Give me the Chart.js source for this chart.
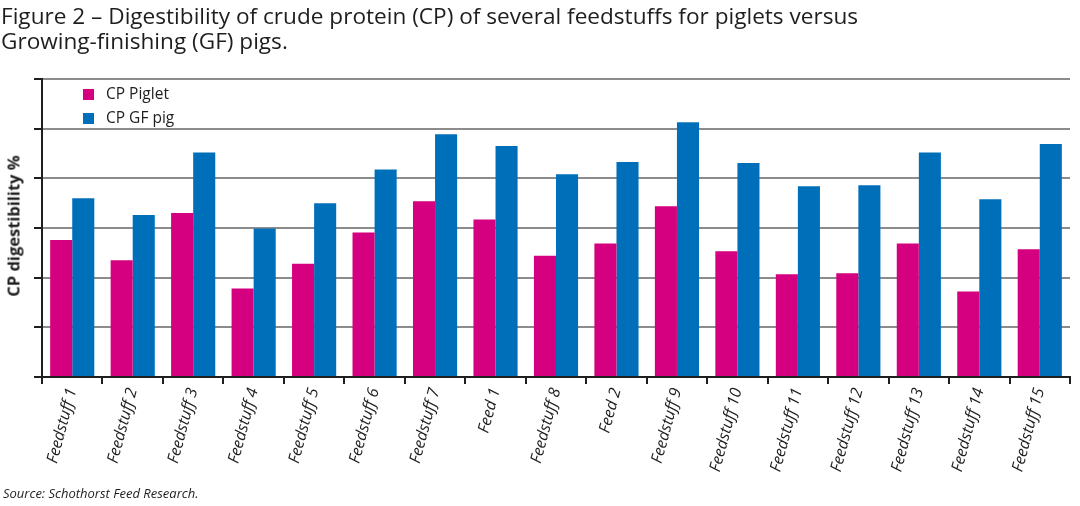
<!DOCTYPE html>
<html>
<head>
<meta charset="utf-8">
<script src="https://cdn.jsdelivr.net/npm/chart.js@4"></script>
<style>
  body { margin: 0; background: #fff; }
  #wrap { position: relative; width: 1080px; height: 506px; font-family: "Open Sans", sans-serif; color: #1e1e1e; }
  #chart { position: absolute; left: 0; top: 0; }
  .title { position: absolute; left: 1px; top: 3px; font-size: 22.6px; line-height: 25px; }
  .ytitle { position: absolute; left: 13px; top: 226px; transform: translate(-50%, -50%) rotate(-90deg); font-size: 16.5px; font-weight: bold; white-space: nowrap; }
  .legend { position: absolute; left: 83px; top: 81px; font-size: 15.5px; line-height: 24px; }
  .legend span.box { display: inline-block; width: 11px; height: 11px; margin-right: 12px; vertical-align: -1px; }
  .source { position: absolute; left: 3px; top: 484px; font-size: 13px; font-style: italic; }
</style>
</head>
<body>
<div id="wrap">
  <canvas id="chart" width="1080" height="506"></canvas>
  <div class="title">Figure 2 – Digestibility of crude protein (CP) of several feedstuffs for piglets versus<br>Growing-finishing (GF) pigs.</div>
  <div class="ytitle">CP digestibility %</div>
  <div class="legend" id="legend"></div>
  <div class="source">Source: Schothorst Feed Research.</div>
</div>
<script>
// data, in gridline units (no values on the axis)
const categories = [
  "Feedstuff 1", "Feedstuff 2", "Feedstuff 3", "Feedstuff 4", "Feedstuff 5",
  "Feedstuff 6", "Feedstuff 7", "Feed 1", "Feedstuff 8", "Feed 2",
  "Feedstuff 9", "Feedstuff 10", "Feedstuff 11", "Feedstuff 12", "Feedstuff 13",
  "Feedstuff 14", "Feedstuff 15"
];
const cpPiglet = [2.76, 2.35, 3.30, 1.78, 2.28, 2.91, 3.54, 3.17, 2.44, 2.69, 3.44, 2.53, 2.07, 2.09, 2.69, 1.72, 2.57];
const cpGfPig  = [3.60, 3.26, 4.52, 2.99, 3.50, 4.18, 4.89, 4.65, 4.08, 4.33, 5.13, 4.31, 3.84, 3.86, 4.52, 3.58, 4.69];
const seriesNames = ["CP Piglet", "CP GF pig"];
const seriesColors = ["#d5007f", "#006fba"];

const ctx = document.getElementById("chart").getContext("2d");
const chart = new Chart(ctx, {
  type: "bar",
  data: {
    labels: categories,
    datasets: [
      { label: seriesNames[0], data: cpPiglet, backgroundColor: seriesColors[0] },
      { label: seriesNames[1], data: cpGfPig, backgroundColor: seriesColors[1] }
    ]
  },
  options: {
    responsive: false,
    animation: false,
    layout: { padding: { left: 0, top: 79, right: 10, bottom: 0 } },
    plugins: { legend: { display: false }, tooltip: { enabled: false } },
    datasets: { bar: { categoryPercentage: 0.73, barPercentage: 1.0 } },
    scales: {
      x: {
        afterFit: (scale) => { scale.height = 129; },
        grid: { drawOnChartArea: false, color: "#1e1e1e", tickLength: 7, lineWidth: 2 },
        border: { color: "#1e1e1e", width: 2 },
        ticks: {
          minRotation: 75, maxRotation: 75, padding: 2,
          color: "#1e1e1e",
          font: { family: "'Open Sans'", size: 16, style: "italic" }
        }
      },
      y: {
        min: 0, max: 6,
        afterFit: (scale) => { scale.width = 42; },
        grid: { color: "#8c8c8c", tickColor: "#1e1e1e", lineWidth: 2, tickLength: 8 },
        border: { color: "#1e1e1e", width: 2 },
        ticks: { display: false, stepSize: 1 }
      }
    }
  }
});

// simple html legend from the same series arrays
const legendEl = document.getElementById("legend");
seriesNames.forEach((name, i) => {
  const row = document.createElement("div");
  row.innerHTML = `<span class="box" style="background:${seriesColors[i]}"></span>${name}`;
  legendEl.appendChild(row);
});
</script>
</body>
</html>
